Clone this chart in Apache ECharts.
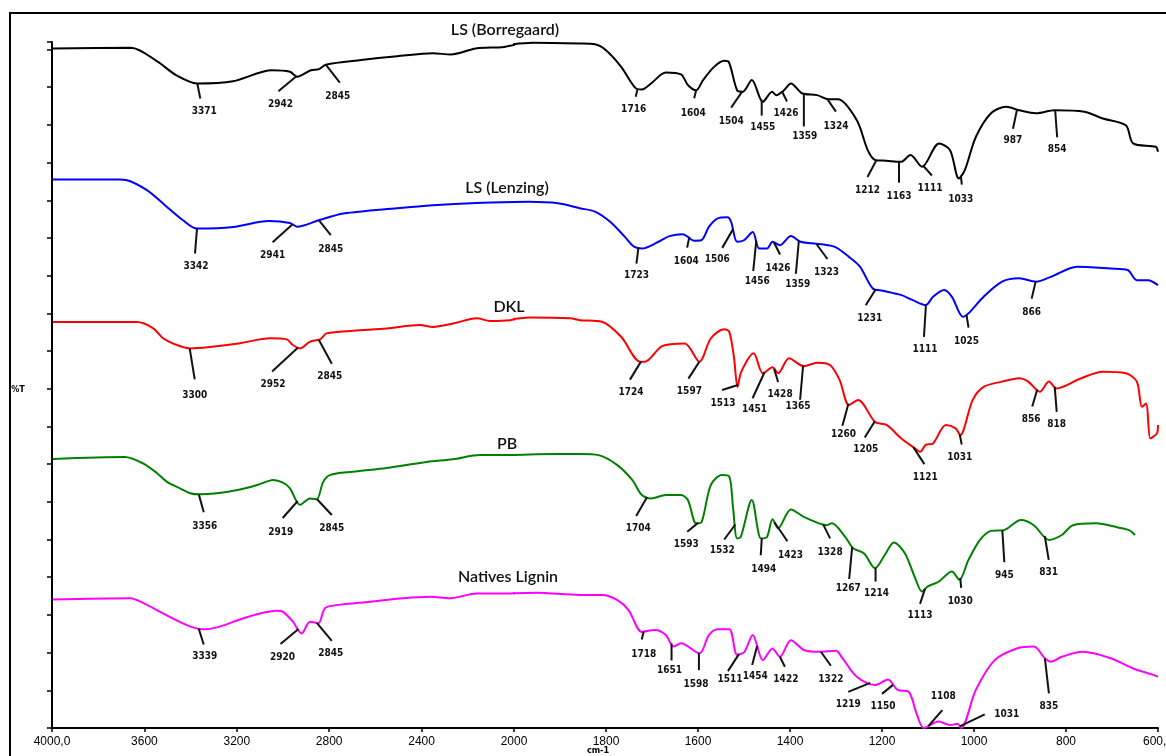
<!DOCTYPE html>
<html><head><meta charset="utf-8">
<script src="https://cdn.jsdelivr.net/npm/echarts@6.0.0/dist/echarts.min.js"></script>
<style>html,body{margin:0;padding:0;background:#fff}#c{width:1166px;height:756px}</style>
</head><body><div id="c"></div>
<script>
// ---------- DATA ----------
const seriesNames = ['LS (Borregaard)', 'LS (Lenzing)', 'DKL', 'PB', 'Natives Lignin'];
const xTicksLeft = [4000, 3600, 3200, 2800, 2400, 2000];
const xTicksRight = [1800, 1600, 1400, 1200, 1000, 800, 600];

const lsbWn = [3996,3658,3541,3463,3372,3216,3048,2970,2939,2879,2844,2814,2662,2506,2351,2273,2165,2043,1959,1857,1824,1800,1767,1735,1722,1702,1670,1637,1622,1604,1589,1565,1543,1533,1515,1503,1483,1459,1439,1430,1413,1398,1374,1341,1316,1296,1255,1231,1215,1191,1159,1138,1113,1076,1052,1033,1020,996,963,930,902,865,825,760,720,670,654,605,600];
const lsbT = [18.03,18.05,17.67,17.32,17.10,17.16,17.45,17.41,17.28,17.45,17.48,17.60,17.72,17.82,17.90,17.87,18.03,18.07,18.18,18.16,18.14,17.98,17.54,16.97,16.94,17.10,17.39,17.34,17.06,16.92,17.19,17.54,17.70,17.67,16.92,16.88,17.19,16.61,16.88,16.79,16.92,17.10,16.84,16.79,16.68,16.68,16.13,15.33,15.07,15.05,15.02,15.20,14.89,15.51,15.33,14.58,14.80,15.68,16.31,16.48,16.39,16.31,16.39,16.35,16.17,15.99,15.51,15.42,15.29];

const lslWn = [3996,3706,3680,3589,3511,3433,3372,3216,3062,2970,2939,2846,2738,2506,2351,2165,1967,1904,1857,1824,1791,1759,1739,1722,1686,1662,1633,1622,1609,1593,1576,1557,1536,1528,1515,1500,1481,1467,1450,1438,1422,1398,1377,1353,1304,1272,1248,1220,1198,1159,1133,1105,1089,1065,1048,1024,1012,979,939,902,865,833,776,703,666,646,622,600];
const lslT = [14.55,14.55,14.54,14.27,13.87,13.47,13.25,13.29,13.45,13.40,13.30,13.47,13.65,13.79,13.87,13.93,13.96,13.92,13.79,13.70,13.43,13.03,12.77,12.72,12.90,13.05,13.10,13.03,12.93,12.94,13.30,13.52,13.55,13.43,12.90,12.94,13.16,12.72,12.72,12.90,12.81,13.05,12.90,12.86,12.77,12.50,12.24,11.66,11.60,11.49,11.35,11.22,11.44,11.62,11.44,10.91,11.00,11.44,11.84,11.93,11.84,11.97,12.24,12.19,12.15,11.88,11.88,11.75];

const dklWn = [3996,3632,3563,3519,3459,3403,3316,3186,3056,2984,2957,2926,2883,2840,2811,2697,2551,2407,2351,2264,2161,2104,2017,1967,1878,1857,1809,1767,1726,1715,1678,1629,1597,1572,1543,1532,1522,1514,1506,1479,1459,1438,1426,1402,1370,1341,1313,1292,1272,1252,1215,1190,1158,1133,1117,1105,1089,1061,1040,1030,1003,979,939,902,882,857,837,821,767,720,670,646,635,626,617,610,602,600];
const dklT = [10.77,10.77,10.61,10.34,10.16,10.07,10.11,10.21,10.34,10.31,10.16,10.07,10.25,10.31,10.47,10.54,10.60,10.69,10.64,10.73,10.87,10.80,10.82,10.89,10.87,10.82,10.78,10.38,9.72,9.72,10.13,10.20,9.72,10.34,10.58,10.51,9.85,9.05,9.45,9.94,9.41,9.57,9.41,9.81,9.60,9.69,9.63,9.23,8.57,8.70,8.12,8.04,7.68,7.46,7.33,7.51,7.55,8.04,7.95,7.77,8.70,9.05,9.19,9.28,9.19,8.92,9.19,9.01,9.28,9.45,9.41,9.19,8.52,8.61,7.68,7.73,7.82,8.04];

const pbWn = [3996,3684,3606,3545,3502,3446,3403,3359,3286,3186,3100,3043,3000,2970,2926,2883,2854,2826,2797,2697,2551,2378,2264,2147,2017,1951,1857,1816,1776,1743,1722,1702,1670,1637,1622,1604,1592,1572,1548,1532,1524,1515,1507,1483,1463,1450,1438,1426,1398,1370,1337,1320,1309,1280,1263,1239,1215,1194,1174,1150,1129,1113,1101,1077,1048,1032,1012,987,963,935,898,870,837,809,785,735,687,663,650];
const pbT = [7.14,7.19,7.02,6.76,6.53,6.36,6.23,6.20,6.23,6.33,6.47,6.58,6.51,6.36,5.92,6.09,6.07,6.53,6.71,6.80,6.90,7.06,7.13,7.24,7.24,7.26,7.27,7.24,6.98,6.58,6.18,6.09,6.18,6.18,6.05,5.43,5.47,6.45,6.71,6.67,5.87,5.03,5.07,6.05,5.03,5.07,5.54,5.30,5.80,5.60,5.43,5.38,5.43,5.07,4.77,4.63,4.24,4.59,4.92,4.63,4.01,3.62,3.75,3.88,4.15,3.93,4.46,4.99,5.23,5.25,5.52,5.38,4.99,5.12,5.38,5.43,5.32,5.25,5.12];

const nlWn = [3996,3662,3606,3532,3459,3390,3346,3286,3186,3100,3026,3000,2957,2919,2883,2847,2818,2768,2623,2481,2364,2277,2161,2017,1951,1857,1808,1776,1751,1722,1694,1670,1653,1637,1597,1576,1557,1532,1515,1499,1481,1459,1438,1422,1398,1370,1337,1300,1288,1255,1215,1187,1166,1142,1125,1109,1077,1052,1036,1028,996,955,907,870,846,833,809,764,703,654,610,600];
const nlT = [3.41,3.44,3.32,3.08,2.85,2.67,2.62,2.67,2.88,3.04,3.11,3.08,2.82,2.51,2.82,2.78,3.18,3.26,3.35,3.44,3.48,3.44,3.57,3.57,3.59,3.53,3.53,3.40,3.13,2.55,2.60,2.47,2.16,2.25,1.98,2.47,2.62,2.62,1.94,2.02,2.47,1.80,2.11,1.89,2.33,2.07,2.02,2.05,1.89,1.36,1.14,1.29,1.01,0.96,0.39,0.00,0.17,0.08,0.11,0.00,1.01,1.80,2.11,2.16,1.85,1.76,1.89,2.02,1.85,1.58,1.41,1.36];

const peaksLSB = [3371,2942,2845,1716,1604,1504,1455,1426,1359,1324,1212,1163,1111,1033,987,854];
const peaksLSL = [3342,2941,2845,1723,1604,1506,1456,1426,1359,1323,1231,1111,1025,866];
const peaksDKL = [3300,2952,2845,1724,1597,1513,1451,1428,1365,1260,1205,1121,1031,856,818];
const peaksPB  = [3356,2919,2845,1704,1593,1532,1494,1423,1328,1267,1214,1113,1030,945,831];
const peaksNL  = [3339,2920,2845,1718,1651,1598,1511,1454,1422,1322,1219,1150,1108,1031,835];

// ---------- LAYOUT (pixel offsets of leader end / label, anchor shift) ----------
const layLSB = [[3,15,7,28,0],[-18,15,-16,28,0],[14,18,12,32,7],[-2,8,-4,21,-7],[-2,8,-3,23,0],[-11,16,-11,30,0],[0,16,1,28,-3],[5,10,4,22,4],[0,33,1,43,-5],[9,13,9,28,2],[-9,17,-9,30,0],[0,21,0,35,0],[9,10,7,23,0],[1,9,0,24,2],[-4,19,-4,31,37],[2,27,2,39,14]];
const layLSL = [[-2,25,-1,38,-7],[-20,18,-20,31,-4],[12,15,12,29,0],[-2,16,-2,28,-3],[-2,10,-3,24,-7],[-11,19,-16,31,-8],[-3,30,1,40,-8],[6,12,4,26,-4],[-3,33,-1,44,-10],[11,15,10,28,-9],[-10,16,-6,29,8],[-2,32,-1,45,3],[2,13,0,27,4],[-4,17,-4,31,0]];
const layDKL = [[5,31,5,47,-24],[-26,24,-25,37,4],[13,24,11,37,0],[-11,18,-10,31,0],[-11,17,-10,30,0],[-16,5,-15,18,0],[-12,26,-10,37,-2],[4,13,6,25,-3],[-3,34,-5,41,-3],[-6,22,-5,31,-6],[-10,16,-9,28,-5],[11,17,12,30,-5],[2,10,0,23,0],[-5,17,-6,30,-3],[2,25,2,38,-3]];
const layPB = [[5,18,6,32,-2],[-15,17,-17,31,-4],[15,16,15,29,-2],[-11,19,-9,31,-3],[-11,9,-12,22,-3],[-11,15,-13,26,6],[-1,17,2,31,15],[13,19,16,33,-5],[7,14,7,28,0],[-3,32,-4,41,1],[0,14,1,26,0],[-5,15,-5,27,3],[1,10,0,24,0],[2,32,2,45,3],[4,24,4,37,-7]];
const layNL = [[5,16,6,28,-6],[-18,15,-16,28,-3],[15,18,14,30,-2],[-2,8,0,23,0],[0,17,-2,27,-3],[0,17,-3,31,0],[-11,17,-9,25,0],[-5,19,-2,30,-8],[5,10,6,23,0],[10,14,10,28,-5],[-22,9,-22,22,-3],[-11,9,-10,22,-12],[14,-16,15,-30,4],[25,-12,47,-12,0],[4,35,4,48,-5]];
const titlePos = [[505,30],[507,188],[509,307],[507,444],[508,577]];

const specs = [
  {wn: lsbWn, t: lsbT, peaks: peaksLSB, lay: layLSB, color: '#000000'},
  {wn: lslWn, t: lslT, peaks: peaksLSL, lay: layLSL, color: '#0000ff'},
  {wn: dklWn, t: dklT, peaks: peaksDKL, lay: layDKL, color: '#ff0000'},
  {wn: pbWn,  t: pbT,  peaks: peaksPB,  lay: layPB,  color: '#008000'},
  {wn: nlWn,  t: nlT,  peaks: peaksNL,  lay: layNL,  color: '#ff00ff'}
];

const SPLIT = 2000;
const smallFont = 'bold 10px "DejaVu Sans Condensed", "Liberation Sans Narrow", "DejaVu Sans", sans-serif';

function sidePairs(s, left) {
  const out = [];
  const n = s.wn.length;
  for (let i = 0; i < n; i++) {
    const w = s.wn[i];
    const inSide = left ? w >= SPLIT : w <= SPLIT;
    const nextIn = left ? (i > 0 && s.wn[i - 1] >= SPLIT) : (i < n - 1 && s.wn[i + 1] <= SPLIT);
    if (inSide || nextIn) out.push([w, s.t[i]]);
  }
  return out;
}
function interp(wn, t, w) {
  for (let i = 0; i < wn.length - 1; i++) {
    if ((wn[i] - w) * (wn[i + 1] - w) <= 0) {
      const f = (w - wn[i]) / (wn[i + 1] - wn[i]);
      return t[i] + f * (t[i + 1] - t[i]);
    }
  }
  return t[t.length - 1];
}

const series = [];
specs.forEach((s, si) => {
  [0, 1].forEach(g => {
    series.push({
      type: 'line', name: seriesNames[si], xAxisIndex: g, yAxisIndex: g,
      data: sidePairs(s, g === 0), showSymbol: false, symbol: 'none',
      smooth: 0.3,
      lineStyle: {color: s.color, width: 2}, itemStyle: {color: s.color},
      clip: true, animation: false, z: 3
    });
  });
});

function annSeries(g) {
  const data = [];
  specs.forEach((s, si) => s.peaks.forEach((p, pi) => {
    if ((g === 0) === (p >= SPLIT)) data.push([p, interp(s.wn, s.t, p), si, pi]);
  }));
  return {
    type: 'custom', xAxisIndex: g, yAxisIndex: g, clip: false, silent: true, z: 6,
    animation: false, data: data, encode: {x: 0, y: 1},
    renderItem: function (params, api) {
      const wn = api.value(0), si = api.value(2), pi = api.value(3);
      const s = specs[si], L = s.lay[pi];
      let p = api.coord([wn, api.value(1)]);
      const shift = L[4] || 0;
      if (shift) {
        const x = p[0] + shift;
        let y = p[1];
        for (let i = 0; i < s.wn.length - 1; i++) {
          const a = api.coord([s.wn[i], s.t[i]]), b = api.coord([s.wn[i + 1], s.t[i + 1]]);
          if ((a[0] - x) * (b[0] - x) <= 0 && a[0] !== b[0]) {
            y = a[1] + (x - a[0]) / (b[0] - a[0]) * (b[1] - a[1]);
            break;
          }
        }
        p = [x, y];
      }
      return {
        type: 'group',
        children: [
          {type: 'line', shape: {x1: p[0], y1: p[1], x2: p[0] + L[0], y2: p[1] + L[1]},
           style: {stroke: '#111', lineWidth: 2}},
          {type: 'text', x: p[0] + L[2], y: p[1] + L[3],
           style: {text: String(wn), fill: '#111', font: smallFont, align: 'center', verticalAlign: 'middle',
                   textAlign: 'center', textVerticalAlign: 'middle'}}
        ]
      };
    }
  };
}
series.push(annSeries(0));
series.push(annSeries(1));

function tickLabel(v) {
  if (v === 4000 || v === 600) return v + ',0';
  return String(v);
}
const axisLabelStyle = {color: '#000', font: 'bold 9px "DejaVu Sans Condensed", "Liberation Sans Narrow", "DejaVu Sans", sans-serif', margin: 8};

const chart = echarts.init(document.getElementById('c'), null, {renderer: 'canvas'});
chart.setOption({
  animation: false,
  backgroundColor: '#ffffff',
  grid: [
    {left: 52, top: 42, width: 462, height: 686, containLabel: false, outerBoundsMode: 'none'},
    {left: 514, top: 42, width: 644, height: 686, containLabel: false, outerBoundsMode: 'none'}
  ],
  xAxis: [
    {type: 'value', gridIndex: 0, min: 2000, max: 4000, interval: 400, inverse: true,
     axisLine: {lineStyle: {color: '#000', width: 2}}, axisTick: {length: 4, lineStyle: {color: '#000', width: 1.5}},
     splitLine: {show: false},
     axisLabel: Object.assign({}, axisLabelStyle, {showMinLabel: true, showMaxLabel: true,
       formatter: v => xTicksLeft.indexOf(v) >= 0 ? tickLabel(v) : ''})},
    {type: 'value', gridIndex: 1, min: 600, max: 2000, interval: 200, inverse: true,
     axisLine: {lineStyle: {color: '#000', width: 2}}, axisTick: {length: 4, lineStyle: {color: '#000', width: 1.5}},
     splitLine: {show: false},
     axisLabel: Object.assign({}, axisLabelStyle, {showMinLabel: true, showMaxLabel: true,
       formatter: v => xTicksRight.indexOf(v) >= 0 ? tickLabel(v) : ''})}
  ],
  yAxis: [
    {type: 'value', gridIndex: 0, min: 0, max: 18.2, interval: 1,
     axisLine: {show: true, lineStyle: {color: '#000', width: 2}},
     axisTick: {show: true, length: 5, lineStyle: {color: '#000', width: 1.5}},
     axisLabel: {show: false}, splitLine: {show: false}},
    {type: 'value', gridIndex: 1, min: 0, max: 18.2, interval: 1, show: false, splitLine: {show: false}}
  ],
  graphic: [
    {type: 'rect', shape: {x: 10, y: 13, width: 1200, height: 800}, style: {fill: null, stroke: '#000', lineWidth: 2}, silent: true},
    {type: 'text', x: 18, y: 390, style: {text: '%T', fill: '#000', font: 'bold 9px "DejaVu Sans Condensed", "DejaVu Sans", sans-serif', align: 'center', verticalAlign: 'middle'}},
    {type: 'text', x: 598, y: 751, style: {text: 'cm-1', fill: '#000', font: 'bold 9px "DejaVu Sans Condensed", "DejaVu Sans", sans-serif', align: 'center', verticalAlign: 'middle'}}
  ].concat(seriesNames.map((n, i) => ({
    type: 'text', x: titlePos[i][0], y: titlePos[i][1],
    style: {text: n, fill: '#111', font: '600 16px Lato, "Open Sans", sans-serif', align: 'center', verticalAlign: 'middle'}
  }))),
  series: series
});
</script>
</body></html>
